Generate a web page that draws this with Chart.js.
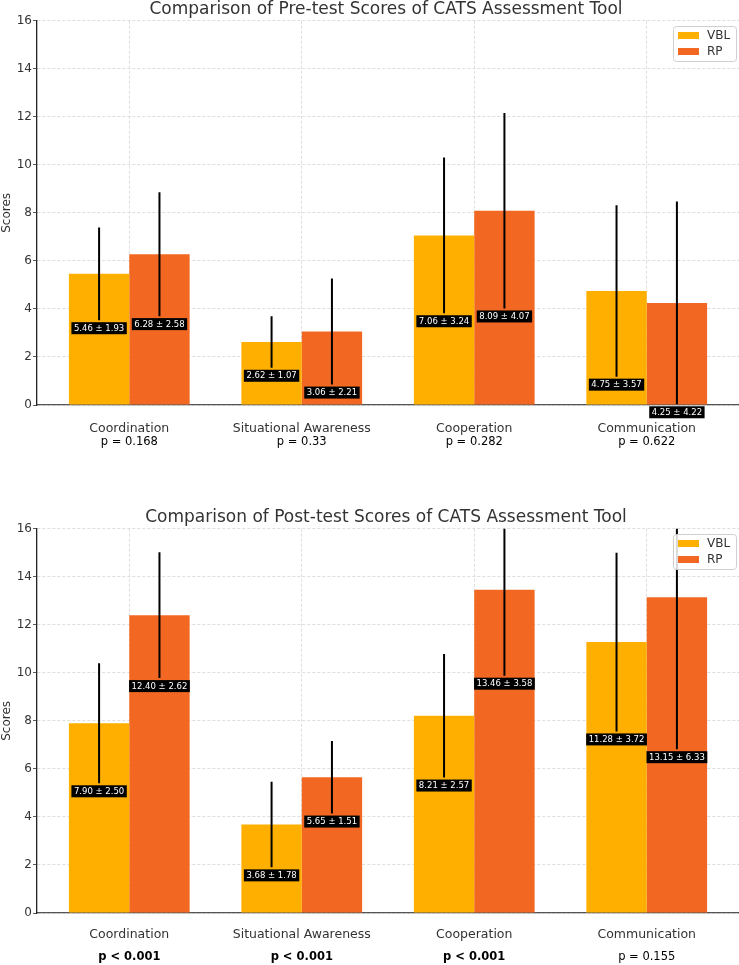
<!DOCTYPE html>
<html>
<head>
<meta charset="utf-8">
<script src="https://cdn.jsdelivr.net/npm/chart.js@4.4.1/dist/chart.umd.min.js"></script>
<style>
body{margin:0;background:#fff;}
.box{position:absolute;left:0;width:739px;height:457px;}
#pre-box{top:0}
#post-box{top:508px}
</style>
</head>
<body>
<div class="box" id="pre-box"><canvas id="pre"></canvas></div>
<div class="box" id="post-box"><canvas id="post"></canvas></div>
<script>
// data
const categories=['Coordination','Situational Awareness','Cooperation','Communication']
const preVbl=[5.46,2.62,7.06,4.75]
const preVblSd=[1.93,1.07,3.24,3.57]
const preRp=[6.28,3.06,8.09,4.25]
const preRpSd=[2.58,2.21,4.07,4.22]
const prePvals=['p = 0.168','p = 0.33','p = 0.282','p = 0.622']
const postVbl=[7.90,3.68,8.21,11.28]
const postVblSd=[2.50,1.78,2.57,3.72]
const postRp=[12.40,5.65,13.46,13.15]
const postRpSd=[2.62,1.51,3.58,6.33]
const postPvals=['p < 0.001','p < 0.001','p < 0.001','p = 0.155']

const vblColor='#FFAF00'
const rpColor='#F26822'

Chart.defaults.font.family="'DejaVu Sans', sans-serif"
Chart.defaults.color='#333'

// mean ± sd whiskers and the black value boxes
const errorBars={
    id:'errorBars',
    afterDatasetsDraw(chart){
        const ctx=chart.ctx, area=chart.chartArea, y=chart.scales.y
        chart.data.datasets.forEach((ds,i)=>{
            chart.getDatasetMeta(i).data.forEach((bar,j)=>{
                const m=ds.data[j].y, sd=ds.sd[j]
                ctx.save()
                ctx.beginPath()
                ctx.rect(area.left,area.top,area.width,area.height)
                ctx.clip()
                ctx.strokeStyle='#000'
                ctx.lineWidth=2
                ctx.beginPath()
                ctx.moveTo(bar.x,y.getPixelForValue(m-sd))
                ctx.lineTo(bar.x,y.getPixelForValue(m+sd))
                ctx.stroke()
                ctx.restore()
            })
        })
        chart.data.datasets.forEach((ds,i)=>{
            chart.getDatasetMeta(i).data.forEach((bar,j)=>{
                const m=ds.data[j].y, sd=ds.sd[j]
                const txt=m.toFixed(2)+' \u00b1 '+sd.toFixed(2)
                ctx.save()
                ctx.font="8.5px 'DejaVu Sans'"
                const w=ctx.measureText(txt).width+5
                const top=y.getPixelForValue(m-sd)+2
                ctx.fillStyle='#000'
                ctx.fillRect(bar.x-w/2,top,w,12)
                ctx.fillStyle='#fff'
                ctx.textAlign='center'
                ctx.textBaseline='middle'
                ctx.fillText(txt,bar.x,top+6.5)
                ctx.restore()
            })
        })
    }
}

// p-values under the category names
const pLabels={
    id:'pLabels',
    afterDraw(chart,args,opts){
        const ctx=chart.ctx, x=chart.scales.x
        opts.values.forEach((p,i)=>{
            ctx.save()
            ctx.font=(p.indexOf('<')>=0?'bold ':'')+"11.5px 'DejaVu Sans'"
            ctx.fillStyle='#000'
            ctx.textAlign='center'
            ctx.textBaseline='middle'
            ctx.fillText(p,x.getPixelForValue(i),chart.chartArea.bottom+opts.offset)
            ctx.restore()
        })
    }
}

// title centred over the plot area, like matplotlib
const axesTitle={
    id:'axesTitle',
    afterDraw(chart,args,opts){
        const ctx=chart.ctx, a=chart.chartArea
        ctx.save()
        ctx.font="17px 'DejaVu Sans'"
        ctx.fillStyle='#333'
        ctx.textAlign='center'
        ctx.textBaseline='middle'
        ctx.fillText(opts.text,(a.left+a.right)/2-2,a.top-11)
        ctx.restore()
    }
}

// matplotlib style legend inside the plot
const boxLegend={
    id:'boxLegend',
    afterDraw(chart){
        const ctx=chart.ctx
        const bx=673, by=26, bw=63, bh=35
        ctx.save()
        ctx.fillStyle='rgba(255,255,255,0.85)'
        ctx.strokeStyle='#cfcfcf'
        ctx.lineWidth=1
        ctx.beginPath()
        ctx.roundRect(bx+0.5,by+0.5,bw,bh,3)
        ctx.fill()
        ctx.stroke()
        chart.data.datasets.forEach((ds,i)=>{
            const yy=by+6+i*16
            ctx.fillStyle=ds.backgroundColor
            ctx.fillRect(bx+5,yy,21,7)
            ctx.fillStyle='#333'
            ctx.font="12px 'DejaVu Sans'"
            ctx.textBaseline='middle'
            ctx.fillText(ds.label,bx+34,yy+4)
        })
        ctx.restore()
    }
}

function makeChart(id,title,vbl,vblSd,rp,rpSd,pvals,pOffset,labelPad){
    new Chart(document.getElementById(id),{
        type:'bar',
        data:{
            datasets:[
                {label:'VBL',data:vbl.map((v,i)=>({x:i,y:v})),sd:vblSd,backgroundColor:vblColor,borderWidth:0},
                {label:'RP',data:rp.map((v,i)=>({x:i,y:v})),sd:rpSd,backgroundColor:rpColor,borderWidth:0}
            ]
        },
        plugins:[errorBars,pLabels,axesTitle,boxLegend],
        options:{
            responsive:true,
            maintainAspectRatio:false,
            animation:false,
            categoryPercentage:0.7,
            barPercentage:1.0,
            layout:{padding:{top:20.7,left:0,right:0,bottom:0}},
            plugins:{
                legend:{display:false},
                tooltip:{enabled:false},
                title:{display:false},
                axesTitle:{text:title},
                pLabels:{values:pvals,offset:pOffset}
            },
            scales:{
                x:{
                    type:'linear',
                    min:-0.535,
                    max:3.535,
                    offset:false,
                    afterBuildTicks:s=>{s.ticks=categories.map((c,i)=>({value:i}))},
                    afterFit:s=>{s.height=52},
                    ticks:{callback:v=>categories[v],padding:labelPad,font:{size:12.5},color:'#333',maxRotation:0,autoSkip:false},
                    grid:{offset:false,color:'#d6d6d6',lineWidth:0.8,drawTicks:false},
                    border:{color:'#555',width:1.3,dash:[3,2]}
                },
                y:{
                    min:0,
                    max:16,
                    afterFit:s=>{s.width=37},
                    ticks:{stepSize:2,padding:1,font:{size:12},color:'#333'},
                    title:{display:true,text:'Scores',font:{size:12},color:'#333',padding:0},
                    grid:{color:'#d6d6d6',lineWidth:0.8,tickLength:4,tickColor:'#333',tickBorderDash:[]},
                    border:{color:'#222',width:1.3,dash:[3,2]}
                }
            }
        }
    })
}

makeChart('pre','Comparison of Pre-test Scores of CATS Assessment Tool',preVbl,preVblSd,preRp,preRpSd,prePvals,37.5,16)
makeChart('post','Comparison of Post-test Scores of CATS Assessment Tool',postVbl,postVblSd,postRp,postRpSd,postPvals,44,14.5)
</script>
</body>
</html>
